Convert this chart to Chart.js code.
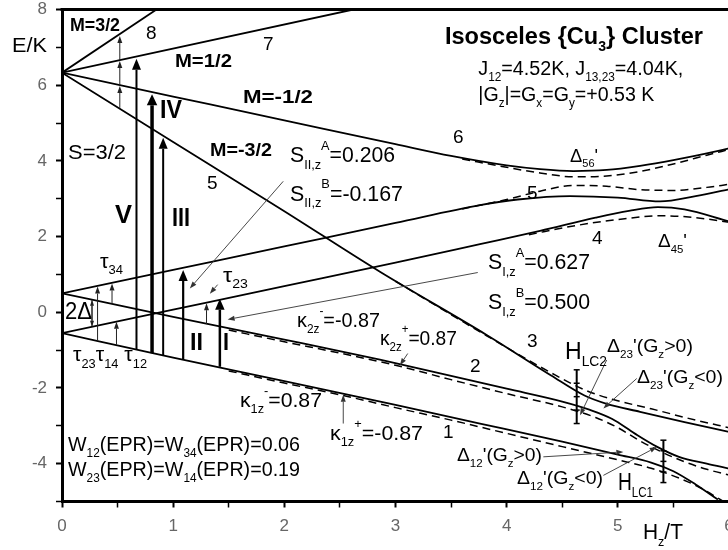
<!DOCTYPE html>
<html>
<head>
<meta charset="utf-8">
<script src="https://cdn.jsdelivr.net/npm/chart.js@4.4.1/dist/chart.umd.min.js"></script>
<style>
  html, body { margin: 0; padding: 0; background: #fff; overflow: hidden; }
  #wrap { position: relative; width: 750px; height: 550px; }
  canvas { display: block; }
</style>
</head>
<body>
<div id="wrap"><canvas id="c" width="750" height="550" style="width:750px;height:550px"></canvas></div>
<script>
// ---- Energy levels E (K) versus field Hz (T), Gz > 0 (solid) ----
// quartet S=3/2 branches
const l8H = [0, 0.85];
const l8E = [6.33, 8.0];
const l7H = [0, 2.62];
const l7E = [6.33, 8.0];
const l6H = [0, 1, 2, 3, 3.5, 4, 4.3, 4.6, 4.9, 5.2, 5.5, 5.8, 6];
const l6E = [6.33, 5.70, 5.07, 4.44, 4.13, 3.88, 3.78, 3.73, 3.76, 3.87, 4.02, 4.2, 4.33];
const l3H = [0, 1, 2, 2.86, 3.82, 4.4, 4.7, 4.9, 5.2, 5.6, 6];
const l3E = [6.33, 4.5, 2.67, 1.07, -0.6, -1.67, -2.2, -2.42, -2.63, -2.9, -3.16];
// doublet branches
const l5H = [0, 1, 2, 3, 3.76, 4.1, 4.57, 5.0, 5.38, 5.7, 6];
const l5E = [0.5, 1.12, 1.74, 2.36, 2.83, 2.98, 3.07, 3.03, 2.93, 3.07, 3.25];
const l4H = [0, 1, 2, 3, 3.76, 4.3, 4.8, 5.1, 5.36, 5.6, 6];
const l4E = [-0.55, 0.07, 0.69, 1.31, 1.8, 2.15, 2.5, 2.68, 2.78, 2.72, 2.4];
const l2H = [0, 1, 2, 2.86, 3.5, 4, 4.5, 4.75, 4.95, 5.15, 5.35, 5.55, 5.8, 6];
const l2E = [0.5, -0.12, -0.72, -1.25, -1.68, -2.02, -2.36, -2.58, -2.82, -3.2, -3.55, -3.82, -4.0, -4.13];
const l1H = [0, 1, 2, 3, 3.76, 4.5, 5, 5.3, 5.5, 5.7, 5.9];
const l1E = [-0.55, -1.2, -1.82, -2.45, -2.94, -3.42, -3.76, -3.97, -4.2, -4.55, -4.95];

// ---- same levels for Gz < 0 (dashed) ----
const d6H = [3.6, 4.0, 4.3, 4.6, 4.9, 5.2, 5.5, 5.8, 6.0];
const d6E = [4.05, 3.83, 3.68, 3.58, 3.6, 3.72, 3.92, 4.15, 4.3];
const d5H = [3.6, 4.0, 4.3, 4.6, 4.9, 5.2, 5.5, 5.8, 6.0];
const d5E = [2.73, 2.98, 3.2, 3.35, 3.33, 3.24, 3.22, 3.3, 3.38];
const d4H = [4.2, 4.6, 5.0, 5.4, 5.7, 6.0];
const d4E = [2.05, 2.28, 2.45, 2.55, 2.5, 2.38];
const d3H = [3.0, 3.82, 4.4, 4.7, 4.95, 5.3, 5.7, 6.0];
const d3E = [0.82, -0.62, -1.6, -2.05, -2.3, -2.55, -2.85, -3.05];
const d2H = [1.5, 2.0, 2.5, 3.0, 3.5, 4.0, 4.5, 4.8, 5.0, 5.2, 5.4, 5.6, 5.8, 6.0];
const d2E = [-0.47, -0.78, -1.08, -1.4, -1.78, -2.15, -2.5, -2.78, -3.05, -3.4, -3.7, -3.95, -4.15, -4.3];
const d1H = [1.5, 2.0, 2.5, 3.0, 3.5, 4.0, 4.5, 5.0, 5.3, 5.55, 5.75, 5.95];
const d1E = [-1.55, -1.87, -2.18, -2.52, -2.85, -3.2, -3.55, -3.9, -4.12, -4.38, -4.65, -5.0];

// ---- Transitions ----
// EPR transitions V, IV, III, II, I : field, lower and upper energy
const trH  = [0.67, 0.81, 0.91, 1.09, 1.42];
const trLo = [-0.99, -1.08, -1.14, -1.26, -1.44];
const trHi = [6.70, 5.76, 4.61, 1.12, 0.36];
// relaxation arrows (tau) and quartet arrows: field, from, to
const tauH  = [0.32, 0.45, 0.49, 1.30, 0.52, 0.52, 0.52];
const tauLo = [-0.75, 0.22, -0.86, -0.31, 5.40, 6.00, 6.66];
const tauHi = [0.68, 0.76, -0.25, 0.24, 5.98, 6.64, 7.30];
// 2Δ zero-field gap marker
const gapH = [0.27];
const gapLo = [-0.38];
const gapHi = [0.33];
// level-crossing fields and their extent
const lcH  = [4.63, 5.41];
const lcLo = [-2.94, -4.50];
const lcHi = [-1.52, -3.38];

// ---- Axis ticks ----
const xTicks = [0, 1, 2, 3, 4, 5, 6];
const yTicks = [-4, -2, 0, 2, 4, 6, 8];

const FONT = '"Liberation Sans", Arial, Helvetica, sans-serif';

function pts(H, E) { return H.map((h, i) => ({ x: h, y: E[i] })); }
function solid(H, E) {
  return { data: pts(H, E), showLine: true, borderColor: '#000', borderWidth: 1.8,
           pointRadius: 0, cubicInterpolationMode: 'monotone', fill: false };
}
function dashed(H, E) {
  return { data: pts(H, E), showLine: true, borderColor: '#000', borderWidth: 1.5,
           borderDash: [8, 5], pointRadius: 0, cubicInterpolationMode: 'monotone', fill: false };
}

// text: string, anchor (H,E) at left/middle, font size, weight, drawn width (px, 0 = natural)
const labels = [
  ['M=3/2', 0.072, 7.56, 18, 'bold', 50],
  ['8', 0.756, 7.35, 19, 'normal', 0],
  ['7', 1.808, 7.06, 19, 'normal', 0],
  ['M=1/2', 1.016, 6.60, 18, 'bold', 57],
  ['M=-1/2', 1.628, 5.66, 18, 'bold', 70],
  ['IV', 0.882, 5.31, 25, 'bold', 22],
  ['S=3/2', 0.054, 4.19, 21, 'normal', 58],
  ['M=-3/2', 1.331, 4.26, 18, 'bold', 62],
  ['5', 1.304, 3.40, 19, 'normal', 0],
  ['S_{II,z}^{A}=0.206', 2.051, 4.12, 22, 'normal', 105],
  ['S_{II,z}^{B}=-0.167', 2.051, 3.11, 22, 'normal', 113],
  ['6', 3.517, 4.60, 19, 'normal', 0],
  ['Isosceles {Cu_{3}} Cluster', 3.445, 7.26, 23, 'bold', 258],
  ['J_{12}=4.52K, J_{13,23}=4.04K,', 3.745, 6.42, 20, 'normal', 205],
  ['|G_{z}|=G_{x}=G_{y}=+0.53 K', 3.745, 5.73, 20, 'normal', 176],
  ["\u0394_{56}'", 4.570, 4.12, 19, 'normal', 28],
  ['5', 4.183, 3.14, 19, 'normal', 0],
  ['4', 4.767, 1.95, 19, 'normal', 0],
  ["\u0394_{45}'", 5.361, 1.87, 19, 'normal', 29],
  ['S_{I,z}^{A}=0.627', 3.832, 1.30, 22, 'normal', 102],
  ['S_{I,z}^{B}=0.500', 3.832, 0.24, 22, 'normal', 102],
  ['3', 4.183, -0.78, 19, 'normal', 0],
  ['V', 0.477, 2.55, 25, 'bold', 17],
  ['III', 0.989, 2.45, 25, 'bold', 18],
  ['\u03c4_{34}', 0.342, 1.31, 20, 'normal', 23],
  ['\u03c4_{23}', 1.448, 0.94, 20, 'normal', 25],
  ['2\u0394', 0.027, 0.0, 23, 'normal', 27],
  ['II', 1.151, -0.81, 24, 'bold', 13],
  ['I', 1.448, -0.83, 24, 'bold', 6],
  ['\u03ba_{2z}^{-}=-0.87', 2.114, -0.23, 21, 'normal', 83],
  ['\u03ba_{2z}^{+}=0.87', 2.860, -0.70, 21, 'normal', 77],
  ['\u03c4_{23}\u03c4_{14} \u03c4_{12}', 0.099, -1.15, 20, 'normal', 74],
  ['2', 3.670, -1.44, 19, 'normal', 0],
  ['H_{LC2}', 4.525, -1.07, 23, 'normal', 42],
  ["\u0394_{23}'(G_{z}>0)", 4.902, -0.91, 19, 'normal', 86],
  ["\u0394_{23}'(G_{z}<0)", 5.172, -1.73, 19, 'normal', 86],
  ['\u03ba_{1z}^{-}=0.87', 1.601, -2.34, 21, 'normal', 82],
  ['\u03ba_{1z}^{+}=-0.87', 2.411, -3.22, 21, 'normal', 93],
  ['1', 3.427, -3.19, 19, 'normal', 0],
  ['W_{12}(EPR)=W_{34}(EPR)=0.06', 0.054, -3.51, 21, 'normal', 232],
  ['W_{23}(EPR)=W_{14}(EPR)=0.19', 0.054, -4.17, 21, 'normal', 232],
  ["\u0394_{12}'(G_{z}>0)", 3.553, -3.80, 19, 'normal', 85],
  ["\u0394_{12}'(G_{z}<0)", 4.093, -4.41, 19, 'normal', 86],
  ['H_{LC1}', 5.001, -4.52, 23, 'normal', 35],
  ['E/K', -0.45, 7.02, 21, 'normal', 35],
  ['H_{z}/T', 5.226, -5.84, 22, 'normal', 40]
];

// thin pointer lines: from (H,E) to (H,E), arrow at the end
const pointers = [
  [1.99, 3.46, 1.15, 0.63],
  [1.40, 0.73, 1.33, 0.49],
  [3.74, 1.05, 1.49, -0.19],
  [3.11, -1.09, 3.04, -1.40],
  [2.53, -2.94, 2.53, -2.18],
  [4.90, -1.26, 4.66, -2.72],
  [5.17, -1.75, 4.87, -2.54],
  [4.33, -3.82, 5.05, -3.69],
  [4.87, -4.31, 5.35, -3.56]
];

// split a label into runs: plain, _{subscript}, ^{superscript}
function runs(str, size) {
  return str.split(/(_\{[^}]*\}|\^\{[^}]*\})/).filter(p => p.length).map(p => {
    if (p.startsWith('_{')) return { t: p.slice(2, -1), fs: size * 0.6, dy: size * 0.42 };
    if (p.startsWith('^{')) return { t: p.slice(2, -1), fs: size * 0.6, dy: -size * 0.45 };
    return { t: p, fs: size, dy: 0 };
  });
}

function richText(ctx, str, x, y, size, weight, width) {
  const rs = runs(str, size);
  let total = 0;
  rs.forEach(r => { ctx.font = `${weight} ${r.fs}px ${FONT}`; r.w = ctx.measureText(r.t).width; total += r.w; });
  const k = width > 0 ? width / total : 1;
  ctx.save();
  ctx.translate(x, y);
  ctx.scale(k, 1);
  let cx = 0;
  rs.forEach(r => {
    ctx.font = `${weight} ${r.fs}px ${FONT}`;
    ctx.fillText(r.t, cx, r.dy);
    cx += r.w;
  });
  ctx.restore();
}

function arrow(ctx, x1, y1, x2, y2, lw, hl, hw) {
  const a = Math.atan2(y2 - y1, x2 - x1);
  const bx = x2 - hl * Math.cos(a), by = y2 - hl * Math.sin(a);
  ctx.lineWidth = lw;
  ctx.beginPath(); ctx.moveTo(x1, y1); ctx.lineTo(bx, by); ctx.stroke();
  ctx.beginPath();
  ctx.moveTo(x2, y2);
  ctx.lineTo(bx + hw / 2 * Math.sin(a), by - hw / 2 * Math.cos(a));
  ctx.lineTo(bx - hw / 2 * Math.sin(a), by + hw / 2 * Math.cos(a));
  ctx.closePath(); ctx.fill();
}

const marks = {
  id: 'marks',
  afterDraw(chart) {
    const { ctx, chartArea: a, scales: { x, y } } = chart;
    const px = v => x.getPixelForValue(v), py = v => y.getPixelForValue(v);
    ctx.save();
    ctx.strokeStyle = '#000'; ctx.fillStyle = '#000'; ctx.lineCap = 'butt';
    // top frame
    ctx.lineWidth = 3;
    ctx.beginPath(); ctx.moveTo(a.left - 1.5, a.top); ctx.lineTo(a.right + 2, a.top); ctx.stroke();

    // EPR transitions
    const trW = [2, 3.5, 2, 2.2, 2.5];
    trH.forEach((h, i) => arrow(ctx, px(h), py(trLo[i]), px(h), py(trHi[i]), trW[i], 11, 7 + trW[i]));
    // relaxation arrows
    ctx.strokeStyle = '#222'; ctx.fillStyle = '#222';
    tauH.forEach((h, i) => arrow(ctx, px(h), py(tauLo[i]), px(h), py(tauHi[i]), 1, 7, 5));
    // zero-field gap
    gapH.forEach((h, i) => {
      arrow(ctx, px(h), py(gapLo[i]), px(h), py(gapHi[i]), 1, 6, 4);
      arrow(ctx, px(h), py(gapHi[i]), px(h), py(gapLo[i]), 1, 6, 4);
    });
    // pointers
    ctx.strokeStyle = '#333'; ctx.fillStyle = '#333';
    pointers.forEach(p => arrow(ctx, px(p[0]), py(p[1]), px(p[2]), py(p[3]), 0.9, 7, 5));

    // level crossing markers
    ctx.strokeStyle = '#000'; ctx.fillStyle = '#000';
    lcH.forEach((h, i) => {
      const X = px(h), y1 = py(lcLo[i]), y2 = py(lcHi[i]);
      ctx.lineWidth = 2;
      ctx.beginPath(); ctx.moveTo(X, y1); ctx.lineTo(X, y2); ctx.stroke();
      ctx.lineWidth = 1.5;
      for (let k = 0; k <= 4; k++) {
        const yy = y1 + (y2 - y1) * k / 4;
        ctx.beginPath(); ctx.moveTo(X - 3, yy); ctx.lineTo(X + 3, yy); ctx.stroke();
      }
    });

    // labels
    ctx.fillStyle = '#000'; ctx.textBaseline = 'middle'; ctx.textAlign = 'left';
    labels.forEach(l => richText(ctx, l[0], px(l[1]), py(l[2]), l[3], l[4], l[5]));
    ctx.restore();
  }
};

const datasets = [
  solid(l8H, l8E), solid(l7H, l7E), solid(l6H, l6E), solid(l3H, l3E),
  solid(l5H, l5E), solid(l4H, l4E), solid(l2H, l2E), solid(l1H, l1E),
  dashed(d6H, d6E), dashed(d5H, d5E), dashed(d4H, d4E), dashed(d3H, d3E),
  dashed(d2H, d2E), dashed(d1H, d1E)
];

new Chart(document.getElementById('c'), {
  type: 'scatter',
  data: { datasets },
  options: {
    responsive: false,
    animation: false,
    devicePixelRatio: 1,
    layout: { padding: { left: 0, right: 21, top: 9.5, bottom: 0 } },
    plugins: { legend: { display: false }, tooltip: { enabled: false } },
    scales: {
      x: {
        type: 'linear', min: 0, max: 6,
        afterFit: s => { s.height = 48.5; s.paddingLeft = 0; s.paddingRight = 0; },
        border: { display: true, color: '#000', width: 3 },
        grid: { drawOnChartArea: false, drawTicks: true, tickLength: 6, tickColor: '#000',
                tickWidth: c => (xTicks.includes(c.tick.value) ? 2 : 1.5) },
        ticks: { stepSize: 0.5, autoSkip: false, maxRotation: 0, color: '#666', padding: 9,
                 font: { family: FONT, size: 17 },
                 callback: v => (xTicks.includes(v) ? String(v) : '') }
      },
      y: {
        type: 'linear', min: -5, max: 8,
        afterFit: s => { s.width = 62; s.paddingTop = 0; s.paddingBottom = 0; },
        border: { display: true, color: '#000', width: 3 },
        grid: { drawOnChartArea: false, drawTicks: true, tickLength: 6, tickColor: '#000',
                tickWidth: c => (yTicks.includes(c.tick.value) ? 2 : 1.5) },
        ticks: { stepSize: 1, autoSkip: false, color: '#666', padding: 9,
                 font: { family: FONT, size: 17 },
                 callback: v => (yTicks.includes(v) ? String(v) : '') }
      }
    }
  },
  plugins: [marks]
});
</script>
</body>
</html>
